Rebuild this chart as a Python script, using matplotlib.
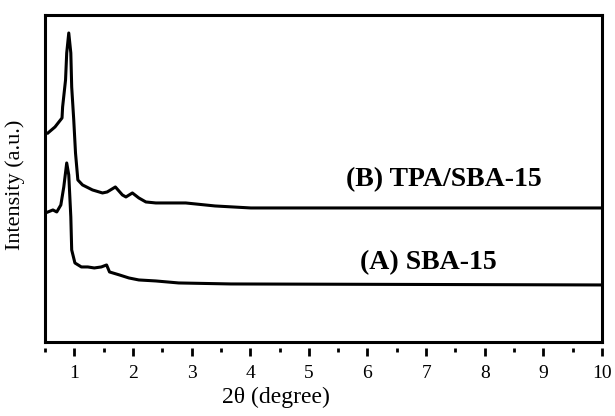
import matplotlib.pyplot as plt
from matplotlib.ticker import MultipleLocator

plt.rcParams['font.family'] = ['Liberation Serif', 'DejaVu Serif']

# 2theta (degree) and intensity (a.u.)
x_b = [0.55, 0.67, 0.79, 0.80, 0.85, 0.87, 0.905, 0.94, 0.955, 0.99, 1.02, 1.06,
       1.14, 1.31, 1.48, 1.56, 1.70, 1.82, 1.88, 1.99, 2.10, 2.22, 2.39, 2.90,
       3.40, 4.01, 10.0]
y_b = [209, 215, 224, 235, 262, 289, 309, 289, 255, 222, 189, 162,
       157, 152, 149, 150, 155, 147, 145, 149, 144, 140, 139, 139,
       136, 134, 134]

x_a = [0.55, 0.635, 0.70, 0.77, 0.82, 0.87, 0.905, 0.94, 0.955, 1.01, 1.12, 1.23,
       1.34, 1.46, 1.55, 1.60, 1.77, 1.93, 2.10, 2.39, 2.78, 3.67, 10.0]
y_a = [130, 132, 130, 137, 155, 179, 167, 125, 92, 79, 75, 75,
       74, 75, 77, 70, 67, 64, 62, 61, 59, 58, 57]

labels = ['(B) TPA/SBA-15', '(A) SBA-15']
label_pos = [(7.30, 162), (7.03, 79)]

fig = plt.figure(figsize=(6.15, 4.16), dpi=100)
ax = fig.add_axes([0.0732, 0.178, 0.9057, 0.786])

ax.plot(x_b, y_b, 'k-', lw=2.2)
ax.plot(x_a, y_a, 'k-', lw=2.2)

for txt, (tx, ty) in zip(labels, label_pos):
    ax.text(tx, ty, txt, ha='center', va='center', fontsize=20, fontweight='bold')

ax.set_xlim(0.5, 10)
ax.set_ylim(0, 327)
for s in ax.spines.values():
    s.set_linewidth(2.2)
ax.set_yticks([])
ax.set_xticks([])
ax.set_ylabel('Intensity (a.u.)', fontsize=16)
ax.yaxis.set_label_coords(-0.036, 0.48)

# tick row drawn a little below the frame
sec = ax.secondary_xaxis(-0.018)
sec.spines['bottom'].set_visible(False)
sec.xaxis.set_major_locator(MultipleLocator(1))
sec.xaxis.set_minor_locator(MultipleLocator(0.5))
sec.tick_params(which='major', length=6, width=2, labelsize=14, pad=6)
sec.tick_params(which='minor', length=3, width=2)

fig.text(276 / 615, 1 - 397 / 416, '2θ (degree)', fontsize=17,
         ha='center', va='center')

fig.savefig('out.png', dpi=100)
